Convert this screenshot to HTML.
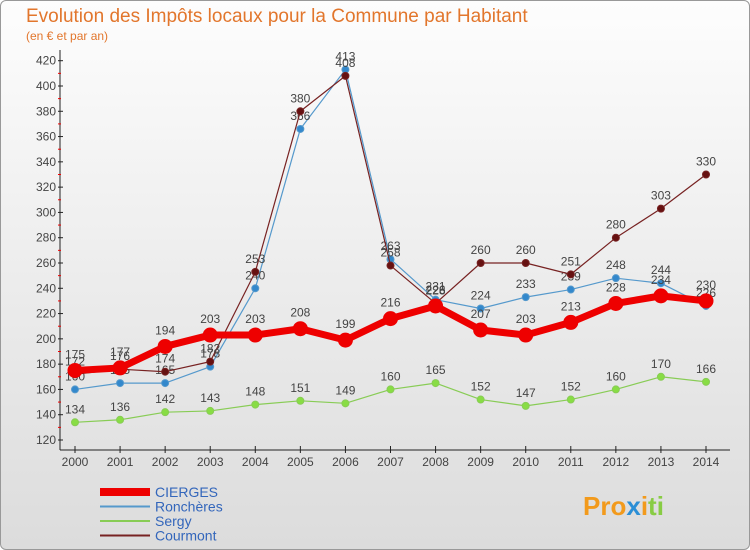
<!DOCTYPE html>
<html><head><meta charset="utf-8"><style>
body{margin:0;width:750px;height:550px;overflow:hidden;font-family:"Liberation Sans","DejaVu Sans",sans-serif;}
#frame{position:absolute;left:0;top:0;width:748px;height:548px;border:1px solid #999;border-radius:6px;background:linear-gradient(#fdfdfd,#dcdcdc);}
</style></head><body>
<div id="frame"></div>
<svg id="c" width="750" height="550" style="position:absolute;left:0;top:0">
<text x="26" y="22" font-size="19" fill="#e2762c">Evolution des Impôts locaux pour la Commune par Habitant</text>
<text x="26" y="40" font-size="12" fill="#e2762c">(en € et par an)</text>
<g id="g"></g>
</svg>
<script>
const years=[2000,2001,2002,2003,2004,2005,2006,2007,2008,2009,2010,2011,2012,2013,2014];
const yTicks=[120,140,160,180,200,220,240,260,280,300,320,340,360,380,400,420];
const cierges=[175,177,194,203,203,208,199,216,226,207,203,213,228,234,230];
const ronch=[160,165,165,178,240,366,413,263,231,224,233,239,248,244,226];
const sergy=[134,136,142,143,148,151,149,160,165,152,147,152,160,170,166];
const courmont=[172,176,174,182,253,380,408,258,228,260,260,251,280,303,330];
const names=['CIERGES','Ronchères','Sergy','Courmont'];
const NS='http://www.w3.org/2000/svg';
const g=document.getElementById('g');
const X=i=>75+i*(706-75)/(years.length-1);
const Y=v=>440-(v-120)*(440-60.7)/300;
function mk(t,a,p){const e=document.createElementNS(NS,t);for(const k in a)e.setAttribute(k,a[k]);(p||g).appendChild(e);return e;}
let ax=mk('line',{x1:60,y1:50,x2:60,y2:450,stroke:'#222','stroke-width':1});

let bx=mk('line',{x1:60,y1:450,x2:730,y2:450,stroke:'#222','stroke-width':1});

for(let v=130;v<=410;v+=20){mk('line',{x1:58,y1:Y(v),x2:61,y2:Y(v),stroke:'#e00'});}
yTicks.forEach(v=>{mk('line',{x1:58,y1:Y(v),x2:63,y2:Y(v),stroke:'#222'});
const t=mk('text',{x:56,y:Y(v)+4,'font-size':12,'text-anchor':'end',fill:'#444'});t.textContent=v;
});
years.forEach((y,i)=>{mk('line',{x1:X(i),y1:446,x2:X(i),y2:453,stroke:'#222'});
const t=mk('text',{x:X(i),y:466,'font-size':12,'text-anchor':'middle',fill:'#444'});t.textContent=y;
});
function series(data,color,w,r,name,dark,lblOff){
const s=mk('g',{});
mk('polyline',{points:data.map((v,i)=>X(i)+','+Y(v)).join(' '),fill:'none',stroke:color,'stroke-width':w,'stroke-linejoin':'round'},s);
data.forEach((v,i)=>{const c=mk('circle',{cx:X(i),cy:Y(v),r:r,fill:dark,stroke:color,'stroke-width':1},s);

const t=mk('text',{x:X(i),y:Y(v)-lblOff,'font-size':12,'text-anchor':'middle',fill:'#444'},s);t.textContent=v;
});}
series(sergy,'#88cc55',1.2,3.5,'sergy','#88dd44',9);
series(ronch,'#5599cc',1.2,3.5,'ronch','#3388cc',9);
series(courmont,'#772222',1.2,3.5,'courmont','#661111',9);
series(cierges,'#ee0000',7,7,'cierges','#ee0000',12);
const leg=[['#ee0000',8],['#5599cc',2],['#88cc55',2],['#772222',2]];
names.forEach((n,i)=>{const y=492+i*14.5;
const l=mk('line',{x1:100,y1:y,x2:150,y2:y,stroke:leg[i][0],'stroke-width':leg[i][1]});

const t=mk('text',{x:155,y:y+5,'font-size':14,fill:'#3366bb'});t.textContent=n;
});
const b=mk('text',{x:583,y:515,'font-size':26,'font-weight':'bold',fill:'#3399cc'});

b.innerHTML='<tspan fill="#f29a1c">Pro</tspan><tspan fill="#2b8fd6">x</tspan><tspan fill="#f29a1c">i</tspan><tspan fill="#88cc44">ti</tspan>';
</script>
</body></html>
